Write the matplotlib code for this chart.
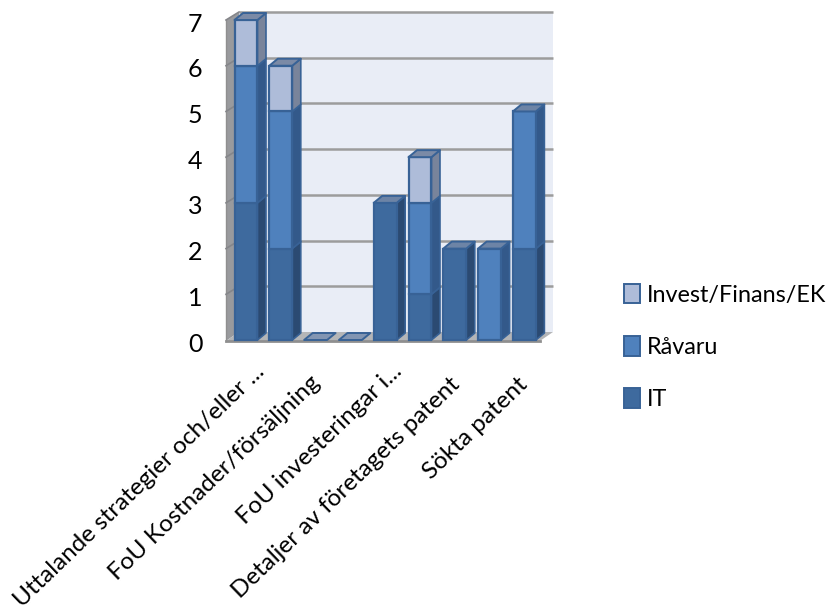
import matplotlib
matplotlib.use("Agg")
import matplotlib.pyplot as plt
from matplotlib.patches import Patch, Polygon
from matplotlib.transforms import ScaledTranslation

plt.rcParams["font.family"] = ["Lato", "DejaVu Sans"]

# nine categories, the axis only has room for every second label
tick_positions = [0, 2, 4, 6, 8]
tick_labels = [
    "Uttalande strategier och/eller ...",
    "FoU Kostnader/försäljning",
    "FoU investeringar i...",
    "Detaljer av företagets patent",
    "Sökta patent",
]
it = [3, 2, 0, 0, 3, 1, 2, 0, 2]
ravaru = [3, 3, 0, 0, 0, 2, 0, 2, 3]
invest = [1, 1, 0, 0, 0, 1, 0, 0, 0]

# front, side and top colour for each series
series = [
    ("IT", it, "#3e6a9e", "#2b4a72", "#6d84a6"),
    ("Råvaru", ravaru, "#4f81bd", "#33598a", "#6d84a6"),
    ("Invest/Finans/EK", invest, "#aebcd9", "#79849b", "#7b8aa6"),
]
edge = "#386296"
grid = "#9c9c9c"

W, H = 829, 610
fig = plt.figure(figsize=(W / 100, H / 100), dpi=100)
ax = fig.add_axes([226 / W, (H - 340) / H, 314 / W, 320 / H])
ax.set_xlim(-0.575, 8.448)
ax.set_ylim(0, 7)
for s in ax.spines.values():
    s.set_visible(False)

# depth of the box and of the bars, in data units
wall_dx, wall_dy = 0.374, 0.175
bar_dx, bar_dy = 0.244, 0.153
bar_w = 0.66
x0, x1 = ax.get_xlim()
floor = -0.02


def poly(points, color, z, ec="none", lw=0):
    ax.add_patch(Polygon(points, closed=True, facecolor=color, edgecolor=ec, linewidth=lw,
                         zorder=z, clip_on=False, joinstyle="round"))


# back wall, side wall and floor
poly([(x0 + wall_dx, wall_dy), (x1 + wall_dx, wall_dy), (x1 + wall_dx, 7 + wall_dy), (x0 + wall_dx, 7 + wall_dy)], "#e9edf6", 1)
poly([(x0, floor), (x0 + wall_dx, wall_dy), (x0 + wall_dx, 7 + wall_dy), (x0, 7)], "#999a9d", 1)
poly([(x0, floor), (x1, floor), (x1 + wall_dx, wall_dy), (x0 + wall_dx, wall_dy)], "#b4b5b7", 1)
ax.plot([x0, x1], [floor, floor], color="#8f8f8f", lw=2, zorder=2, clip_on=False)
ax.plot([x0, x0], [floor, 7], color="#8f8f8f", lw=1, zorder=2, clip_on=False)

for v in range(1, 8):
    ax.plot([x0 + wall_dx, x1 + wall_dx], [v + wall_dy, v + wall_dy], color=grid, lw=1.8, zorder=2,
            clip_on=False, solid_capstyle="butt")
    ax.plot([x0, x0 + wall_dx], [v, v + wall_dy], color="#85868a", lw=1.2, zorder=2, clip_on=False)

# stacked bars, left to right so the sides overlap properly
z = 3
for i in range(len(it)):
    bottom = 0
    left = i - bar_w / 2
    right = i + bar_w / 2
    for name, values, front, side, top in series:
        v = values[i]
        if v > 0:
            poly([(right, bottom), (right + bar_dx, bottom + bar_dy), (right + bar_dx, bottom + v + bar_dy),
                  (right, bottom + v)], side, z, edge, 1.2)
            ax.bar(i, v, bar_w, bottom=bottom, color=front, edgecolor=edge, linewidth=1.6, zorder=z + 1,
                   clip_on=False)
            bottom += v
            last_top = top
            z += 2
    if bottom == 0:
        last_top = "#8295b2"
    poly([(left, bottom), (right, bottom), (right + bar_dx, bottom + bar_dy), (left + bar_dx, bottom + bar_dy)],
         last_top, z, edge, 1.4)
    z += 1

ax.set_yticks(range(0, 8))
ax.set_xticks(tick_positions)
ax.set_xticklabels(tick_labels, rotation=44, ha="right", rotation_mode="anchor")
ax.tick_params(axis="y", length=0, pad=17, labelsize=18, colors="black")
ax.tick_params(axis="x", length=0, pad=14, labelsize=17.5, colors="black")

# small pixel nudges for the tick labels
for label in ax.get_yticklabels():
    label.set_transform(label.get_transform() + ScaledTranslation(0, -2 / 100, fig.dpi_scale_trans))
for label, (dx, dy) in zip(ax.get_xticklabels(), [(8, -1), (-6, -12), (6, -1), (-6, -14), (-7, -14)]):
    label.set_transform(label.get_transform() + ScaledTranslation(dx / 100, dy / 100, fig.dpi_scale_trans))

handles = [Patch(facecolor=front, edgecolor=edge, linewidth=1.4, label=name) for name, _, front, _, _ in series[::-1]]
fig.legend(handles=handles, loc="center left", bbox_to_anchor=(624 / W, (H - 347) / H), frameon=False,
           fontsize=16.8, handlelength=0.68, handleheight=0.9, handletextpad=0.32, labelspacing=1.3,
           borderpad=0, borderaxespad=0)

fig.savefig("out.png", dpi=100)
